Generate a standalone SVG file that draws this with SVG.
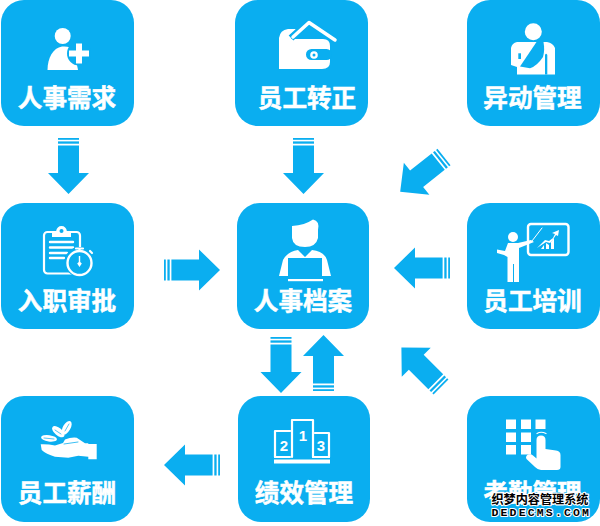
<svg xmlns="http://www.w3.org/2000/svg" width="600" height="526" viewBox="0 0 600 526">
<style>
.box{fill:#0aaef0}
.label{font-family:"Noto Sans CJK SC","Noto Sans",sans-serif;font-weight:700;font-size:24.6px;fill:#fff;text-anchor:middle;stroke:#fff;stroke-width:.5px}
.w{fill:#fff}
.b{fill:#0aaef0}
.ws{fill:none;stroke:#fff;stroke-linecap:round;stroke-linejoin:round}
.arrow{fill:#0aaef0}
.num{font-family:"Liberation Sans",sans-serif;font-weight:700;font-size:15px;fill:#fff;text-anchor:middle}
.wm1{font-family:"Noto Sans CJK SC",sans-serif;font-weight:700;font-size:12.4px;fill:#000;stroke:#fff;stroke-width:2.2px;paint-order:stroke;stroke-linejoin:round}
.wm2{font-family:"Liberation Mono",monospace;font-weight:700;font-size:11.5px;fill:#000;stroke:#fff;stroke-width:2.2px;paint-order:stroke;stroke-linejoin:round}
</style>
<defs>
<g id="arrow">
<rect x="0" y="-10.5" width="1.8" height="21"/>
<rect x="3.4" y="-10.5" width="2.3" height="21"/>
<path d="M7.4 -10.5H35V-20.5L56 0L35 20.5V10.5H7.4Z"/>
</g>
</defs>
<g id="connectors" class="arrow">
<use href="#arrow" transform="translate(68.5 138) rotate(90)"/>
<use href="#arrow" transform="translate(303.5 138) rotate(90)"/>
<use href="#arrow" transform="translate(444 157) rotate(141.5)"/>
<use href="#arrow" transform="translate(164 270)"/>
<use href="#arrow" transform="translate(450 268) rotate(180)"/>
<use href="#arrow" transform="translate(281 337) rotate(90)"/>
<use href="#arrow" transform="translate(323.5 391) rotate(-90)"/>
<use href="#arrow" transform="translate(441 387) rotate(-135)"/>
<use href="#arrow" transform="translate(220 465) rotate(180)"/>
</g>
<g id="renshi-xuqiu">
<rect class="box" x="1" y="0" width="133" height="126" rx="23"/>
<circle class="w" cx="62.7" cy="36" r="8"/>
<path class="w" d="M47.5 70C47.5 58 53 48 62 46.5C67 46 71 47 74 50L78 70Z"/>
<circle class="b" cx="79" cy="53.5" r="12"/>
<path class="w" d="M76 43.500h6v7h7v6h-7v7h-6v-7h-7v-6h7z"/>
<text class="label" x="67" y="107">人事需求</text>
</g>
<g id="yuangong-zhuanzheng">
<rect class="box" x="235" y="0" width="133" height="126" rx="23"/>
<path class="w" d="M279 38Q280 30 288 29H296L291 39H323Q330 39 330 46V62Q330 69 322 69H279Z"/>
<rect class="b" x="306" y="49" width="26" height="11" rx="5.500"/>
<circle class="w" cx="314" cy="55" r="3.800"/>
<circle class="b" cx="314" cy="55" r="1.500"/>
<path fill="none" stroke="#0aaef0" stroke-width="7" d="M291 38L309 22L337 41"/>
<path class="ws" stroke-width="3.500" stroke-linecap="butt" d="M293 37L309 22.500L335 40"/>
<text class="label" x="307" y="107">员工转正</text>
</g>
<g id="yidong-guanli">
<rect class="box" x="467" y="0" width="133" height="126" rx="23"/>
<circle class="w" cx="533.300" cy="31.700" r="8.500"/>
<path class="w" d="M511 48Q512 43 517 42H547Q553 43 555 48V74.500H517V67L511 65Z"/>
<path class="b" d="M536.500 42H543.500Q545 50 543 57Q537 66 530 68.300L520 66.500Z"/>
<path class="b" d="M545 74.500V55Q546 52.500 547.300 55V74.500Z"/>
<rect class="b" x="518.300" y="53.300" width="2.700" height="5.700"/>
<text class="label" x="532.500" y="107">异动管理</text>
</g>
<g id="ruzhi-shenpi">
<rect class="box" x="1" y="203" width="133" height="126" rx="23"/>
<rect class="ws" x="44" y="232" width="36" height="41.500" rx="3.500" stroke-width="2.200"/>
<path class="w" d="M52 237V231.500H56Q57 226 61.500 226T67 231.500H71V237Z"/>
<circle class="b" cx="61.500" cy="231" r="2"/>
<path class="ws" stroke-width="2.400" stroke-linecap="butt" d="M50 242H73M50 247.500H73M50 253H67M50 258H64"/>
<circle class="b" cx="79.500" cy="262" r="15"/>
<circle class="ws" cx="79.500" cy="263" r="12" stroke-width="2.400"/>
<path class="ws" stroke-width="2.200" d="M76 248.500H83M79.500 249V251M90 251L92 253"/>
<path class="w" d="M78.800 256H80.200V262L81.800 263.500L79.500 267L77.200 263.500L78.800 262Z"/>
<text class="label" x="67" y="310">入职审批</text>
</g>
<g id="renshi-dangan">
<rect class="box" x="237" y="203" width="132" height="126" rx="23"/>
<path class="w" d="M292 226Q305 225 313 219.500Q320 221 318 230V238Q316 247 305 247Q293 247 292 238Z"/>
<path class="w" d="M283 260Q288 251 298 250L305 257L312 250Q324 251 327 260L331 276L322 276V258H288V276L279 276Z"/>
<rect class="w" x="288" y="279" width="35" height="2.200"/>
<text class="label" x="303" y="310">人事档案</text>
</g>
<g id="yuangong-peixun">
<rect class="box" x="467" y="203" width="133" height="126" rx="23"/>
<rect class="ws" x="528" y="224" width="40.500" height="31" rx="3" stroke-width="2.400"/>
<circle class="w" cx="513" cy="237" r="5"/>
<path class="w" d="M508 243L518 243L531 240L534 242L519 248V264V282H514V264H513V282H507.500V257L504 255L497 253L497 249.500L505 251Z"/>
<path class="ws" stroke-width="1" d="M532 241L542 228"/>
<path class="w" d="M537 248L545 240L549 241L553 238L555 234L552 233L559 230L558 236L556 235L552 241L550 243L546 242Z"/>
<path class="w" d="M541 249L544 245V249ZM546 249V243L549 245V249ZM551 249V242L554 238V249Z"/>
<text class="label" x="532.500" y="310">员工培训</text>
</g>
<g id="yuangong-xinchou">
<rect class="box" x="1" y="396" width="133" height="126" rx="23"/>
<path class="w" d="M40.700 444.300Q48 444 55 445.500L63 443L65 439.500Q71 437 76.700 437.700L85 443.300H88.300V444H96.700V459.300H88.300V456.700L78.300 455.700L68.300 457.700L55 456.700Q46 454 41.700 450Z"/>
<path class="ws" stroke="#0aaef0" style="stroke:#0aaef0" stroke-width=".8" d="M64 444L78 442"/>
<ellipse class="w" cx="49" cy="438.300" rx="8" ry="3.200" transform="rotate(8 49 438.300)"/>
<ellipse class="w" cx="58.300" cy="431.700" rx="7.500" ry="3.800" transform="rotate(40 58.300 431.700)"/>
<ellipse class="w" cx="66.700" cy="427.700" rx="7.500" ry="3.800" transform="rotate(-60 66.700 427.700)"/>
<path class="ws" style="stroke:#0aaef0" stroke-width=".7" d="M44 438L54 439M55 430L61 434M65 431L69 424"/>
<text class="label" x="67" y="502">员工薪酬</text>
</g>
<g id="jixiao-guanli">
<rect class="box" x="238" y="396" width="132" height="126" rx="23"/>
<path class="ws" stroke-width="2.200" stroke-linecap="butt" d="M275 457V431H290M292 457V420H313V457M315 433H329V457"/>
<path class="ws" stroke-width="2.200" stroke-linecap="butt" d="M275 457H290M313 457H329"/>
<rect class="w" x="274" y="459.500" width="56" height="4"/>
<text class="num" x="284" y="451">2</text>
<text class="num" x="303" y="441">1</text>
<text class="num" x="321" y="451">3</text>
<text class="label" x="304" y="502">绩效管理</text>
</g>
<g id="kaoqin-guanli">
<rect class="box" x="467" y="396" width="133" height="126" rx="23"/>
<g class="w">
<rect x="506" y="419.500" width="10" height="9.500"/><rect x="521" y="419.500" width="10" height="9.500"/><rect x="535.500" y="419.500" width="10" height="9.500"/>
<rect x="506" y="432.500" width="10" height="9.500"/><rect x="521" y="432.500" width="10" height="9.500"/>
<rect x="506" y="445" width="10" height="9.500"/><rect x="521" y="445" width="10" height="9.500"/>
</g>
<path class="ws" stroke-width="1.200" stroke-linecap="butt" d="M537 433.500Q541 431 546 433.500"/>
<path class="w" d="M536.500 440Q536.500 435.500 541 435.500Q545.500 435.500 545.500 440V449L556 450.500Q560.500 451 560.500 455V467Q560.500 470 557 470H541Q538 470 535 467L526.500 459Q525 456.500 528 454.500Q531 453.500 533 455.500L536.500 458.500Z"/>
<text class="label" x="532.500" y="502">考勤管理</text>
</g>
<g id="watermark">
<text class="wm1" x="491.500" y="503.500" textLength="97" lengthAdjust="spacingAndGlyphs">织梦内容管理系统</text>
<text class="wm2" x="491.500" y="516" textLength="97.500" lengthAdjust="spacing">DEDECMS.COM</text>
</g>
</svg>
